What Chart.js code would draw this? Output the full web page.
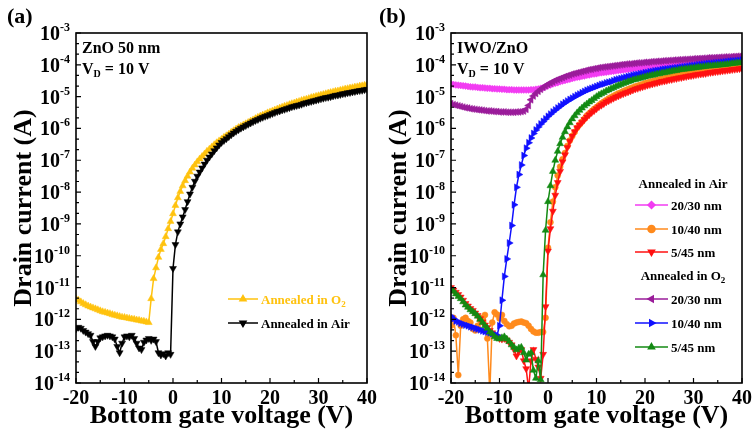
<!DOCTYPE html>
<html>
<head>
<meta charset="UTF-8">
<title>Transfer curves</title>
<script src="https://cdn.jsdelivr.net/npm/chart.js@4.4.1/dist/chart.umd.min.js"></script>
<style>
  * { margin: 0; padding: 0; }
  body { background: #fff; width: 755px; height: 434px; overflow: hidden; }
  #wrap { position: relative; width: 755px; height: 434px; }
  canvas { position: absolute; top: 0; }
  #chartA { left: 0; }
  #chartB { left: 377px; }
</style>
</head>
<body>
<div id="wrap">
  <canvas id="chartA" width="377" height="434"></canvas>
  <canvas id="chartB" width="378" height="434"></canvas>
</div>
<script>
// gate voltage sweep (V), one row = 5 V
var gateVoltage = [
  -20,-19.5,-19,-18.5,-18,-17.5,-17,-16.5,-16,-15.5,
  -15,-14.5,-14,-13.5,-13,-12.5,-12,-11.5,-11,-10.5,
  -10,-9.5,-9,-8.5,-8,-7.5,-7,-6.5,-6,-5.5,
  -5,-4.5,-4,-3.5,-3,-2.5,-2,-1.5,-1,-0.5,
  0,0.5,1,1.5,2,2.5,3,3.5,4,4.5,
  5,5.5,6,6.5,7,7.5,8,8.5,9,9.5,
  10,10.5,11,11.5,12,12.5,13,13.5,14,14.5,
  15,15.5,16,16.5,17,17.5,18,18.5,19,19.5,
  20,20.5,21,21.5,22,22.5,23,23.5,24,24.5,
  25,25.5,26,26.5,27,27.5,28,28.5,29,29.5,
  30,30.5,31,31.5,32,32.5,33,33.5,34,34.5,
  35,35.5,36,36.5,37,37.5,38,38.5,39,39.5,
  40
];

// (a) ZnO 50 nm, drain current (A)
var znoO2 = [
  4.47e-12,3.98e-12,3.55e-12,3.16e-12,2.88e-12,2.63e-12,2.45e-12,2.29e-12,2.14e-12,2.00e-12,
  1.86e-12,1.74e-12,1.66e-12,1.58e-12,1.51e-12,1.41e-12,1.35e-12,1.29e-12,1.23e-12,1.17e-12,
  1.15e-12,1.10e-12,1.07e-12,1.02e-12,1.00e-12,9.55e-13,9.33e-13,8.91e-13,8.71e-13,8.32e-13,
  7.94e-13,4.47e-12,1.91e-11,4.17e-11,8.91e-11,1.58e-10,2.40e-10,3.98e-10,7.08e-10,1.20e-9,
  2.09e-9,3.80e-9,6.61e-9,1.05e-8,1.58e-8,2.29e-8,3.16e-8,4.27e-8,5.62e-8,7.08e-8,
  8.91e-8,1.10e-7,1.32e-7,1.58e-7,1.91e-7,2.24e-7,2.63e-7,3.09e-7,3.55e-7,4.07e-7,
  4.57e-7,5.25e-7,5.89e-7,6.61e-7,7.59e-7,8.51e-7,9.55e-7,1.07e-6,1.17e-6,1.29e-6,
  1.41e-6,1.55e-6,1.70e-6,1.86e-6,2.04e-6,2.24e-6,2.45e-6,2.63e-6,2.82e-6,3.09e-6,
  3.31e-6,3.55e-6,3.80e-6,4.07e-6,4.37e-6,4.68e-6,5.01e-6,5.25e-6,5.62e-6,6.03e-6,
  6.31e-6,6.76e-6,7.08e-6,7.59e-6,7.94e-6,8.32e-6,8.71e-6,9.33e-6,9.77e-6,1.02e-5,
  1.07e-5,1.12e-5,1.17e-5,1.23e-5,1.29e-5,1.35e-5,1.41e-5,1.48e-5,1.51e-5,1.58e-5,
  1.66e-5,1.74e-5,1.78e-5,1.86e-5,1.91e-5,2.00e-5,2.04e-5,2.14e-5,2.19e-5,2.29e-5,
  2.34e-5
];
var znoAir = [
  5.01e-13,5.62e-13,5.25e-13,4.47e-13,3.98e-13,3.55e-13,3.16e-13,2.00e-13,1.41e-13,2.00e-13,
  2.63e-13,2.82e-13,3.02e-13,3.16e-13,3.02e-13,2.82e-13,2.40e-13,1.41e-13,8.91e-14,1.78e-13,
  2.82e-13,3.02e-13,2.82e-13,3.16e-13,2.51e-13,1.78e-13,1.26e-13,1.12e-13,1.91e-13,2.24e-13,
  2.51e-13,2.19e-13,2.40e-13,2.00e-13,8.91e-14,7.59e-14,8.32e-14,7.08e-14,8.91e-14,7.94e-14,
  3.98e-11,2.24e-10,5.62e-10,1.00e-9,1.66e-9,2.82e-9,5.01e-9,8.71e-9,1.41e-8,2.19e-8,
  3.16e-8,4.27e-8,5.75e-8,7.59e-8,1.00e-7,1.26e-7,1.58e-7,2.00e-7,2.45e-7,3.02e-7,
  3.63e-7,4.17e-7,4.79e-7,5.50e-7,6.31e-7,7.24e-7,8.13e-7,9.12e-7,1.02e-6,1.12e-6,
  1.23e-6,1.35e-6,1.48e-6,1.62e-6,1.78e-6,1.91e-6,2.09e-6,2.24e-6,2.40e-6,2.57e-6,
  2.75e-6,2.95e-6,3.16e-6,3.39e-6,3.55e-6,3.80e-6,3.98e-6,4.27e-6,4.47e-6,4.79e-6,
  5.01e-6,5.25e-6,5.50e-6,5.75e-6,6.17e-6,6.46e-6,6.76e-6,7.08e-6,7.41e-6,7.76e-6,
  8.13e-6,8.51e-6,8.91e-6,9.33e-6,9.55e-6,1.00e-5,1.05e-5,1.10e-5,1.12e-5,1.17e-5,
  1.23e-5,1.26e-5,1.32e-5,1.35e-5,1.41e-5,1.45e-5,1.51e-5,1.55e-5,1.58e-5,1.66e-5,
  1.70e-5
];

// (b) IWO/ZnO, annealed in air
var air2030 = [
  2.51e-5,2.40e-5,2.34e-5,2.29e-5,2.24e-5,2.19e-5,2.14e-5,2.09e-5,2.04e-5,2.00e-5,
  2.00e-5,1.95e-5,1.91e-5,1.91e-5,1.86e-5,1.82e-5,1.82e-5,1.78e-5,1.78e-5,1.74e-5,
  1.74e-5,1.70e-5,1.70e-5,1.66e-5,1.66e-5,1.66e-5,1.62e-5,1.62e-5,1.62e-5,1.62e-5,
  1.62e-5,1.62e-5,1.62e-5,1.66e-5,1.66e-5,1.70e-5,1.74e-5,1.82e-5,1.91e-5,2.04e-5,
  2.19e-5,2.34e-5,2.51e-5,2.63e-5,2.75e-5,2.95e-5,3.09e-5,3.24e-5,3.39e-5,3.55e-5,
  3.72e-5,3.89e-5,4.07e-5,4.17e-5,4.37e-5,4.47e-5,4.68e-5,4.79e-5,5.01e-5,5.13e-5,
  5.25e-5,5.50e-5,5.62e-5,5.75e-5,5.89e-5,6.03e-5,6.17e-5,6.31e-5,6.46e-5,6.61e-5,
  6.76e-5,6.92e-5,7.08e-5,7.24e-5,7.41e-5,7.59e-5,7.76e-5,7.94e-5,7.94e-5,8.13e-5,
  8.32e-5,8.51e-5,8.71e-5,8.71e-5,8.91e-5,9.12e-5,9.33e-5,9.33e-5,9.55e-5,9.77e-5,
  9.77e-5,1.00e-4,1.02e-4,1.02e-4,1.05e-4,1.07e-4,1.07e-4,1.10e-4,1.12e-4,1.12e-4,
  1.15e-4,1.17e-4,1.17e-4,1.20e-4,1.20e-4,1.23e-4,1.26e-4,1.26e-4,1.29e-4,1.29e-4,
  1.32e-4,1.35e-4,1.35e-4,1.38e-4,1.38e-4,1.41e-4,1.41e-4,1.45e-4,1.45e-4,1.48e-4,
  1.51e-4
];
var air1040 = [
  6.31e-13,1.12e-12,3.16e-13,1.78e-14,6.31e-13,1.00e-12,1.12e-12,8.91e-13,7.94e-13,5.01e-13,
  4.47e-13,6.31e-13,9.55e-13,1.12e-12,1.38e-12,2.51e-13,5.01e-15,7.94e-13,1.66e-12,1.41e-12,
  1.07e-12,1.38e-12,8.91e-13,7.08e-13,6.03e-13,6.31e-13,7.41e-13,7.94e-13,8.32e-13,8.51e-13,
  7.94e-13,7.59e-13,6.31e-13,5.01e-13,4.17e-13,3.80e-13,3.80e-13,3.98e-13,3.98e-13,1.12e-12,
  1.78e-10,1.12e-9,5.01e-9,1.41e-8,3.31e-8,6.31e-8,1.07e-7,1.70e-7,2.82e-7,4.17e-7,
  5.75e-7,7.76e-7,1.05e-6,1.32e-6,1.62e-6,2.00e-6,2.51e-6,2.95e-6,3.47e-6,4.07e-6,
  4.68e-6,5.37e-6,6.17e-6,6.92e-6,7.76e-6,8.71e-6,9.55e-6,1.05e-5,1.15e-5,1.26e-5,
  1.35e-5,1.48e-5,1.58e-5,1.70e-5,1.82e-5,1.95e-5,2.09e-5,2.19e-5,2.34e-5,2.45e-5,
  2.63e-5,2.75e-5,2.88e-5,3.02e-5,3.16e-5,3.31e-5,3.47e-5,3.63e-5,3.80e-5,3.89e-5,
  4.07e-5,4.27e-5,4.37e-5,4.57e-5,4.68e-5,4.90e-5,5.01e-5,5.25e-5,5.37e-5,5.50e-5,
  5.75e-5,5.89e-5,6.03e-5,6.31e-5,6.46e-5,6.61e-5,6.76e-5,6.92e-5,7.08e-5,7.41e-5,
  7.59e-5,7.76e-5,7.94e-5,8.13e-5,8.32e-5,8.51e-5,8.71e-5,8.91e-5,9.12e-5,9.33e-5,
  9.55e-5
];
var air545 = [
  1.00e-11,8.32e-12,7.08e-12,6.03e-12,5.01e-12,3.98e-12,3.16e-12,2.63e-12,2.19e-12,1.91e-12,
  1.58e-12,1.32e-12,1.05e-12,8.32e-13,6.61e-13,5.50e-13,4.47e-13,3.80e-13,3.16e-13,2.82e-13,
  2.51e-13,2.40e-13,2.51e-13,2.24e-13,1.91e-13,1.58e-13,1.12e-13,7.08e-14,1.00e-13,1.12e-13,
  5.01e-14,2.82e-14,6.31e-15,5.01e-14,1.12e-13,5.62e-14,3.16e-14,1.41e-14,7.94e-14,2.51e-12,
  1.41e-10,7.08e-10,2.51e-9,7.94e-9,2.00e-8,4.47e-8,8.91e-8,1.48e-7,2.51e-7,3.98e-7,
  5.75e-7,7.94e-7,1.05e-6,1.29e-6,1.58e-6,1.91e-6,2.29e-6,2.69e-6,3.16e-6,3.63e-6,
  4.17e-6,4.79e-6,5.37e-6,6.03e-6,6.76e-6,7.41e-6,8.13e-6,8.91e-6,9.77e-6,1.05e-5,
  1.15e-5,1.23e-5,1.32e-5,1.41e-5,1.51e-5,1.62e-5,1.74e-5,1.82e-5,1.95e-5,2.04e-5,
  2.14e-5,2.29e-5,2.40e-5,2.51e-5,2.63e-5,2.75e-5,2.88e-5,3.02e-5,3.09e-5,3.24e-5,
  3.39e-5,3.47e-5,3.63e-5,3.72e-5,3.89e-5,3.98e-5,4.17e-5,4.27e-5,4.47e-5,4.57e-5,
  4.68e-5,4.90e-5,5.01e-5,5.13e-5,5.25e-5,5.37e-5,5.62e-5,5.75e-5,5.89e-5,6.03e-5,
  6.17e-5,6.31e-5,6.46e-5,6.61e-5,6.76e-5,6.92e-5,7.08e-5,7.24e-5,7.41e-5,7.59e-5,
  7.76e-5
];

// (b) IWO/ZnO, annealed in O2
var oxy2030 = [
  6.03e-6,5.62e-6,5.37e-6,5.13e-6,4.90e-6,4.68e-6,4.47e-6,4.37e-6,4.17e-6,4.07e-6,
  3.98e-6,3.89e-6,3.80e-6,3.72e-6,3.63e-6,3.55e-6,3.55e-6,3.47e-6,3.39e-6,3.39e-6,
  3.31e-6,3.31e-6,3.31e-6,3.24e-6,3.24e-6,3.24e-6,3.24e-6,3.31e-6,3.31e-6,3.39e-6,
  3.55e-6,3.98e-6,5.25e-6,7.94e-6,1.05e-5,1.26e-5,1.48e-5,1.70e-5,1.95e-5,2.19e-5,
  2.45e-5,2.69e-5,2.95e-5,3.24e-5,3.47e-5,3.72e-5,3.98e-5,4.27e-5,4.57e-5,4.79e-5,
  5.13e-5,5.37e-5,5.62e-5,5.89e-5,6.17e-5,6.46e-5,6.76e-5,7.08e-5,7.24e-5,7.59e-5,
  7.76e-5,8.13e-5,8.32e-5,8.51e-5,8.71e-5,8.91e-5,9.12e-5,9.33e-5,9.55e-5,9.77e-5,
  1.00e-4,1.02e-4,1.05e-4,1.07e-4,1.07e-4,1.10e-4,1.12e-4,1.15e-4,1.15e-4,1.17e-4,
  1.20e-4,1.20e-4,1.23e-4,1.26e-4,1.26e-4,1.29e-4,1.29e-4,1.32e-4,1.35e-4,1.35e-4,
  1.38e-4,1.38e-4,1.41e-4,1.41e-4,1.45e-4,1.45e-4,1.48e-4,1.48e-4,1.51e-4,1.51e-4,
  1.55e-4,1.55e-4,1.58e-4,1.58e-4,1.62e-4,1.62e-4,1.66e-4,1.66e-4,1.66e-4,1.70e-4,
  1.70e-4,1.74e-4,1.74e-4,1.78e-4,1.78e-4,1.78e-4,1.82e-4,1.82e-4,1.86e-4,1.86e-4,
  1.91e-4
];
var oxy1040 = [
  1.26e-12,1.05e-12,8.91e-13,8.32e-13,7.59e-13,7.08e-13,6.61e-13,6.31e-13,5.89e-13,5.62e-13,
  5.25e-13,5.01e-13,4.68e-13,4.37e-13,4.17e-13,3.98e-13,3.80e-13,3.55e-13,3.31e-13,3.16e-13,
  6.31e-13,3.98e-12,2.24e-11,7.94e-11,2.51e-10,8.91e-10,3.98e-9,1.41e-8,3.55e-8,7.08e-8,
  1.41e-7,2.40e-7,3.55e-7,5.01e-7,6.92e-7,8.91e-7,1.12e-6,1.38e-6,1.66e-6,2.00e-6,
  2.40e-6,2.82e-6,3.31e-6,3.80e-6,4.37e-6,5.01e-6,5.75e-6,6.46e-6,7.24e-6,8.13e-6,
  8.91e-6,1.00e-5,1.10e-5,1.20e-5,1.32e-5,1.45e-5,1.58e-5,1.70e-5,1.82e-5,1.95e-5,
  2.09e-5,2.24e-5,2.40e-5,2.51e-5,2.69e-5,2.82e-5,2.95e-5,3.16e-5,3.39e-5,3.55e-5,
  3.72e-5,3.89e-5,4.07e-5,4.27e-5,4.47e-5,4.68e-5,4.90e-5,5.01e-5,5.25e-5,5.37e-5,
  5.62e-5,5.75e-5,6.03e-5,6.17e-5,6.46e-5,6.61e-5,6.76e-5,7.08e-5,7.24e-5,7.41e-5,
  7.59e-5,7.76e-5,7.94e-5,8.13e-5,8.32e-5,8.51e-5,8.71e-5,8.91e-5,9.12e-5,9.33e-5,
  9.55e-5,9.77e-5,1.00e-4,1.02e-4,1.05e-4,1.07e-4,1.10e-4,1.11e-4,1.12e-4,1.15e-4,
  1.17e-4,1.19e-4,1.20e-4,1.23e-4,1.26e-4,1.29e-4,1.32e-4,1.33e-4,1.35e-4,1.38e-4,
  1.41e-4
];
var oxy545 = [
  8.91e-12,7.59e-12,6.31e-12,5.25e-12,4.47e-12,3.55e-12,2.82e-12,2.40e-12,2.00e-12,1.74e-12,
  1.51e-12,1.26e-12,1.00e-12,7.94e-13,6.31e-13,5.25e-13,3.98e-13,3.55e-13,2.82e-13,2.51e-13,
  2.40e-13,2.63e-13,2.82e-13,2.40e-13,2.00e-13,1.58e-13,1.32e-13,1.10e-13,1.26e-13,1.32e-13,
  8.91e-14,5.25e-14,7.94e-14,8.91e-14,2.51e-14,1.41e-14,5.01e-14,1.26e-14,2.51e-11,6.31e-10,
  5.01e-9,1.58e-8,4.47e-8,1.00e-7,1.91e-7,3.31e-7,5.25e-7,7.94e-7,1.12e-6,1.51e-6,
  2.00e-6,2.51e-6,3.09e-6,3.72e-6,4.37e-6,5.13e-6,5.89e-6,6.76e-6,7.59e-6,8.71e-6,
  1.00e-5,1.12e-5,1.23e-5,1.35e-5,1.51e-5,1.62e-5,1.78e-5,1.91e-5,2.09e-5,2.24e-5,
  2.40e-5,2.57e-5,2.75e-5,2.95e-5,3.09e-5,3.31e-5,3.47e-5,3.63e-5,3.80e-5,3.98e-5,
  4.17e-5,4.37e-5,4.57e-5,4.68e-5,4.90e-5,5.13e-5,5.25e-5,5.50e-5,5.62e-5,5.89e-5,
  6.03e-5,6.31e-5,6.46e-5,6.61e-5,6.92e-5,7.08e-5,7.24e-5,7.41e-5,7.59e-5,7.76e-5,
  7.94e-5,8.13e-5,8.32e-5,8.51e-5,8.71e-5,8.91e-5,9.12e-5,9.23e-5,9.33e-5,9.55e-5,
  9.77e-5,9.89e-5,1.00e-4,1.02e-4,1.05e-4,1.07e-4,1.10e-4,1.12e-4,1.15e-4,1.16e-4,
  1.17e-4
];

// axis ticks
var xTicks = [-20, -10, 0, 10, 20, 30, 40];
var xMinorTicks = [-15, -5, 5, 15, 25, 35];
var yExponents = [-14, -13, -12, -11, -10, -9, -8, -7, -6, -5, -4, -3];

var FONT = '"Liberation Serif", "Times New Roman", serif';
function font(size) { return '700 ' + size + 'px ' + FONT; }

// pieces: [text, size, dy]
function runWidth(ctx, pieces) {
  var w = 0;
  pieces.forEach(function(p) { ctx.font = font(p[1]); w += ctx.measureText(p[0]).width; });
  return w;
}
function drawRun(ctx, x, y, pieces, color) {
  ctx.fillStyle = color || '#000';
  ctx.textAlign = 'left';
  ctx.textBaseline = 'alphabetic';
  var cx = x;
  pieces.forEach(function(p) {
    ctx.font = font(p[1]);
    ctx.fillText(p[0], cx, y + (p[2] || 0));
    cx += ctx.measureText(p[0]).width;
  });
}

function pts(ys) {
  return gateVoltage.map(function(v, i) { return { x: v, y: ys[i] }; });
}
function series(label, ys, color, style, rot, r, order) {
  return {
    label: label, data: pts(ys), order: order,
    borderColor: color, backgroundColor: color, borderWidth: 1.5,
    pointStyle: style, rotation: rot, pointRadius: r,
    pointBackgroundColor: color, pointBorderColor: color, pointBorderWidth: 0.5
  };
}

var axesPlugin = {
  id: 'axesDeco',
  afterDraw: function(chart) {
    var ctx = chart.ctx, a = chart.chartArea;
    var xs = chart.scales.x, ys = chart.scales.y;
    var o = chart.options.plugins.axesDeco;
    ctx.save();
    ctx.strokeStyle = '#000';
    ctx.lineWidth = 1.6;
    ctx.strokeRect(a.left, a.top, a.right - a.left, a.bottom - a.top);

    ctx.lineWidth = 1.2;
    ctx.beginPath();
    xTicks.forEach(function(v) {
      var px = xs.getPixelForValue(v);
      ctx.moveTo(px, a.bottom); ctx.lineTo(px, a.bottom - 5);
    });
    xMinorTicks.forEach(function(v) {
      var px = xs.getPixelForValue(v);
      ctx.moveTo(px, a.bottom); ctx.lineTo(px, a.bottom - 3);
    });
    yExponents.forEach(function(e) {
      var py = ys.getPixelForValue(Math.pow(10, e));
      ctx.moveTo(a.left, py); ctx.lineTo(a.left + 5, py);
      if (e < -3) {
        [1 / 3, 2 / 3].forEach(function(f) {
          var pm = ys.getPixelForValue(Math.pow(10, e + f));
          ctx.moveTo(a.left, pm); ctx.lineTo(a.left + 3, pm);
        });
      }
    });
    ctx.stroke();

    // tick labels
    ctx.fillStyle = '#000';
    ctx.font = font(20);
    ctx.textAlign = 'center';
    ctx.textBaseline = 'alphabetic';
    xTicks.forEach(function(v) {
      ctx.fillText(String(v), xs.getPixelForValue(v), a.bottom + 21);
    });
    yExponents.forEach(function(e) {
      var py = ys.getPixelForValue(Math.pow(10, e));
      var pieces = [['10', 20, 7], [String(e), 12, -2]];
      var w = runWidth(ctx, pieces);
      drawRun(ctx, a.left - 6 - w, py, pieces);
    });

    // axis titles
    ctx.fillStyle = '#000';
    ctx.font = font(26);
    ctx.textAlign = 'center';
    ctx.fillText('Bottom gate voltage (V)', (a.left + a.right) / 2, 423);
    ctx.save();
    ctx.translate(a.left - 45, (a.top + a.bottom) / 2);
    ctx.rotate(-Math.PI / 2);
    ctx.fillText('Drain current (A)', 0, 0);
    ctx.restore();

    // panel letter and notes
    drawRun(ctx, o.letterX, 23, [[o.letter, 22]]);
    drawRun(ctx, a.left + 6, 53, [[o.title, 16]]);
    drawRun(ctx, a.left + 6, 74, [['V', 16], ['D', 10, 3], [' = 10 V', 16]]);

    // legend
    o.legend.forEach(function(it) {
      if (it.head) {
        var w = runWidth(ctx, it.text);
        drawRun(ctx, it.cx - w / 2, it.y + 5, it.text, '#000');
        return;
      }
      ctx.strokeStyle = it.color;
      ctx.fillStyle = it.color;
      ctx.lineWidth = 1.5;
      ctx.beginPath();
      ctx.moveTo(it.x1, it.y); ctx.lineTo(it.x2, it.y);
      ctx.stroke();
      Chart.helpers.drawPoint(ctx, { pointStyle: it.style, rotation: it.rot, radius: 3.5, borderWidth: 0.5 },
        (it.x1 + it.x2) / 2, it.y);
      drawRun(ctx, it.x2 + 3, it.y + 5, it.text, it.textColor || '#000');
    });
    ctx.restore();
  }
};

var yellow = '#FFC20E', black = '#000000';
var magenta = '#F23CF2', orange = '#FF8A1C', red = '#FF1010';
var purple = '#9A1C9A', blue = '#1010FF', green = '#138A13';

function baseOptions(pad, deco) {
  return {
    responsive: false,
    animation: false,
    layout: { padding: pad },
    plugins: { legend: { display: false }, tooltip: { enabled: false }, axesDeco: deco },
    scales: {
      x: { type: 'linear', min: -20, max: 40, display: false },
      y: { type: 'logarithmic', min: 1e-14, max: 1e-3, display: false }
    },
    elements: { line: { tension: 0 } }
  };
}

new Chart(document.getElementById('chartA'), {
  type: 'line',
  data: {
    datasets: [
      series('Annealed in O2', znoO2, yellow, 'triangle', 0, 4, 1),
      series('Annealed in Air', znoAir, black, 'triangle', 180, 4, 0)
    ]
  },
  options: baseOptions({ left: 76, right: 10, top: 33, bottom: 51 }, {
    letter: '(a)', letterX: 7, title: 'ZnO 50 nm',
    legend: [
      { x1: 228, x2: 258, y: 299, color: yellow, style: 'triangle', rot: 0, textColor: yellow,
        text: [['Annealed in O', 13], ['2', 9, 3]] },
      { x1: 228, x2: 258, y: 323, color: black, style: 'triangle', rot: 180,
        text: [['Annealed in Air', 13]] }
    ]
  }),
  plugins: [axesPlugin]
});

new Chart(document.getElementById('chartB'), {
  type: 'line',
  data: {
    datasets: [
      series('Air 20/30 nm', air2030, magenta, 'rectRot', 0, 3.5, 5),
      series('Air 10/40 nm', air1040, orange, 'circle', 0, 3, 4),
      series('Air 5/45 nm', air545, red, 'triangle', 180, 4, 3),
      series('O2 20/30 nm', oxy2030, purple, 'triangle', -90, 4, 2),
      series('O2 10/40 nm', oxy1040, blue, 'triangle', 90, 4, 1),
      series('O2 5/45 nm', oxy545, green, 'triangle', 0, 4, 0)
    ]
  },
  options: baseOptions({ left: 74, right: 13, top: 33, bottom: 51 }, {
    letter: '(b)', letterX: 2, title: 'IWO/ZnO',
    legend: [
      { head: true, cx: 306, y: 183, text: [['Annealed in Air', 13]] },
      { x1: 258, x2: 291, y: 205, color: magenta, style: 'rectRot', rot: 0, text: [['20/30 nm', 13]] },
      { x1: 258, x2: 291, y: 229, color: orange, style: 'circle', rot: 0, text: [['10/40 nm', 13]] },
      { x1: 258, x2: 291, y: 252, color: red, style: 'triangle', rot: 180, text: [['5/45 nm', 13]] },
      { head: true, cx: 306, y: 275, text: [['Annealed in O', 13], ['2', 9, 3]] },
      { x1: 258, x2: 291, y: 299, color: purple, style: 'triangle', rot: -90, text: [['20/30 nm', 13]] },
      { x1: 258, x2: 291, y: 323, color: blue, style: 'triangle', rot: 90, text: [['10/40 nm', 13]] },
      { x1: 258, x2: 291, y: 347, color: green, style: 'triangle', rot: 0, text: [['5/45 nm', 13]] }
    ]
  }),
  plugins: [axesPlugin]
});
</script>
</body>
</html>
